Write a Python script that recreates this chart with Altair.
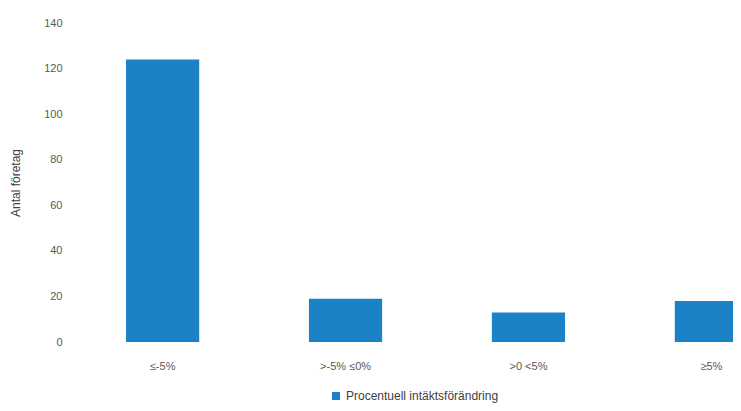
import altair as alt
import pandas as pd

categories = ["≤-5%", ">-5% ≤0%", ">0 <5%", "≥5%"]
values = [124, 19, 13, 18]
series_name = "Procentuell intäktsförändring"
y_ticks = [0, 20, 40, 60, 80, 100, 120, 140]

df = pd.DataFrame({"kategori": categories, "antal": values, "serie": [series_name] * len(categories)})

chart = alt.Chart(df).mark_bar(color="#1c82c8").encode(
    x=alt.X(
        "kategori:N",
        sort=categories,
        scale=alt.Scale(range=[0, 724], paddingInner=0.6, paddingOuter=0.279),
        axis=alt.Axis(
            title=None, labelAngle=0, ticks=False, domain=False, grid=False,
            labelPadding=18, labelFontSize=11, labelColor="#595959", labelFont="Liberation Sans",
        ),
    ),
    y=alt.Y(
        "antal:Q",
        scale=alt.Scale(domain=[0, 140], nice=False),
        axis=alt.Axis(
            title="Antal företag", values=y_ticks, ticks=False, domain=False, grid=False,
            labelPadding=13, labelFontSize=11, labelColor="#595959", labelFont="Liberation Sans",
            titleFontSize=12, titleFontWeight="normal", titleColor="#404040", titleFont="Liberation Sans",
            titlePadding=21,
        ),
    ),
    color=alt.Color(
        "serie:N",
        scale=alt.Scale(range=["#1c82c8"]),
        legend=alt.Legend(
            title=None, orient="none", legendX=255, legendY=367, symbolType="square",
            symbolSize=64, symbolStrokeWidth=0, labelFontSize=12, labelColor="#404040",
            labelFont="Liberation Sans",
        ),
    ),
).properties(
    width=658,
    height=319,
    autosize=alt.AutoSizeParams(type="none"),
    padding={"left": 67, "top": 15, "right": 0, "bottom": 61},
).configure_view(stroke=None)

chart.save("out.html", embed_options={"renderer": "svg", "actions": False})
